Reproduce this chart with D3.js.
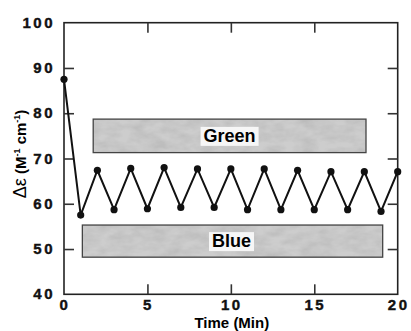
<!DOCTYPE html>
<html>
<head>
<meta charset="utf-8">
<script src="https://cdn.jsdelivr.net/npm/d3@7"></script>
<style>
  html,body{margin:0;padding:0;background:#fff;}
  svg{display:block;font-family:"Liberation Sans",Arial,sans-serif;}
</style>
</head>
<body>
<div id="chart"></div>
<script>
// data
const times  = [0,1,2,3,4,5,6,7,8,9,10,11,12,13,14,15,16,17,18,19,20];
const deltaE = [87.5,57.5,67.4,58.7,67.8,58.9,68.0,59.2,67.7,59.2,67.7,58.7,67.7,58.7,67.4,58.7,67.1,58.7,67.1,58.3,67.1];
const xTicks = [0,5,10,15,20];
const yTicks = [40,50,60,70,80,90,100];
// shaded bands: [label, x0, x1, y0, y1]
const bands = [
  ["Green", 1.75, 18.1, 71.3, 78.7],
  ["Blue",  1.1, 19.1, 48.2, 55.3]
];

const width = 411, height = 331;
const m = {top:22.7, right:13.3, bottom:36.7, left:64};

const svg = d3.select("#chart").append("svg")
  .attr("width",width).attr("height",height);

const x = d3.scaleLinear().domain([0,20]).range([m.left,width-m.right]);
const y = d3.scaleLinear().domain([40,100]).range([height-m.bottom,m.top]);

// grainy grey fill for the bands
const defs = svg.append("defs");
const f = defs.append("filter").attr("id","grain").attr("x",0).attr("y",0).attr("width",1).attr("height",1);
f.append("feTurbulence").attr("type","fractalNoise").attr("baseFrequency","0.06 0.12").attr("numOctaves",3).attr("seed",7).attr("result","n");
f.append("feColorMatrix").attr("in","n").attr("type","matrix")
  .attr("values","0 0 0 0 0.5  0 0 0 0 0.5  0 0 0 0 0.5  0 0 0 1.6 -0.45").attr("result","c");
f.append("feComposite").attr("in","c").attr("in2","SourceGraphic").attr("operator","in").attr("result","cc");
f.append("feMerge").call(s=>{s.append("feMergeNode").attr("in","SourceGraphic");s.append("feMergeNode").attr("in","cc");});

const bg = svg.append("g").selectAll("g").data(bands).join("g");
bg.append("rect")
  .attr("x",d=>x(d[1])).attr("y",d=>y(d[4]))
  .attr("width",d=>x(d[2])-x(d[1])).attr("height",d=>y(d[3])-y(d[4]))
  .attr("fill","#cdcdcd").attr("filter","url(#grain)");
bg.append("rect")
  .attr("x",d=>x(d[1])).attr("y",d=>y(d[4]))
  .attr("width",d=>x(d[2])-x(d[1])).attr("height",d=>y(d[3])-y(d[4]))
  .attr("fill","none").attr("stroke","#444").attr("stroke-width",1.3);
const lbl = bg.append("text")
  .attr("x",d=>x((d[1]+d[2])/2)+ (d[0]==="Green"?0:-1))
  .attr("y",d=>(y(d[3])+y(d[4]))/2+6)
  .attr("text-anchor","middle")
  .attr("font-size",18).attr("font-weight","bold")
  .text(d=>d[0]);
lbl.each(function(){
  const b=this.getBBox();
  d3.select(this.parentNode).insert("rect","text")
    .attr("x",b.x-3).attr("y",b.y+1).attr("width",b.width+6).attr("height",b.height-1)
    .attr("fill","#f6f6f6");
});

// frame
svg.append("rect")
  .attr("x",x(0)).attr("y",y(100))
  .attr("width",x(20)-x(0)).attr("height",y(40)-y(100))
  .attr("fill","none").attr("stroke","#222").attr("stroke-width",1.6);

// axes with inward ticks on all sides
const ax = (g)=>g.call(s=>s.select(".domain").remove())
  .call(s=>s.selectAll(".tick line").attr("stroke","#333").attr("stroke-width",1.6));
const inner = v=>v>0 && v<20;
const innerY = v=>v>40 && v<100;

svg.append("g").attr("transform",`translate(0,${y(40)})`)
  .call(d3.axisBottom(x).tickValues(xTicks.filter(inner)).tickSize(-10).tickFormat(""))
  .call(ax);
svg.append("g").attr("transform",`translate(0,${y(100)})`)
  .call(d3.axisTop(x).tickValues(xTicks.filter(inner)).tickSize(-10).tickFormat(""))
  .call(ax);
svg.append("g").attr("transform",`translate(${x(0)},0)`)
  .call(d3.axisLeft(y).tickValues(yTicks.filter(innerY)).tickSize(-10).tickFormat(""))
  .call(ax);
svg.append("g").attr("transform",`translate(${x(20)},0)`)
  .call(d3.axisRight(y).tickValues(yTicks.filter(innerY)).tickSize(-10).tickFormat(""))
  .call(ax);

// tick labels
svg.append("g").selectAll("text").data(xTicks).join("text")
  .attr("x",d=>x(d)+1).attr("y",y(40)+16)
  .attr("text-anchor","middle").attr("font-size",15).attr("font-weight","bold")
  .attr("letter-spacing",2.5).attr("fill","#111")
  .attr("stroke","#111").attr("stroke-width",0.4)
  .text(d=>d);
svg.append("g").selectAll("text").data(yTicks).join("text")
  .attr("x",x(0)-9).attr("y",d=>y(d)+5)
  .attr("text-anchor","end").attr("font-size",15).attr("font-weight","bold")
  .attr("letter-spacing",2.5).attr("fill","#111")
  .attr("stroke","#111").attr("stroke-width",0.4)
  .text(d=>d);

// axis titles
svg.append("text")
  .attr("x",(x(0)+x(20))/2+1).attr("y",height-3)
  .attr("text-anchor","middle").attr("font-size",15).attr("font-weight","bold")
  .text("Time (Min)");
const yt = svg.append("text")
  .attr("transform",`translate(26,${y(71)}) rotate(-90)`)
  .attr("text-anchor","middle").attr("font-size",15).attr("font-weight","bold");
yt.append("tspan").attr("font-weight","normal").attr("font-size",18).text("Δε");
yt.append("tspan").text(" (M");
yt.append("tspan").attr("font-size",9).attr("dy",-6).text("-1");
yt.append("tspan").attr("dy",6).text(" cm");
yt.append("tspan").attr("font-size",9).attr("dy",-6).text("-1");
yt.append("tspan").attr("dy",6).text(")");

// series
const pts = times.map((t,i)=>[t,deltaE[i]]);
svg.append("path").datum(pts)
  .attr("fill","none").attr("stroke","#111").attr("stroke-width",2)
  .attr("stroke-linejoin","miter")
  .attr("d",d3.line().x(d=>x(d[0])).y(d=>y(d[1])));
svg.append("g").selectAll("circle").data(pts).join("circle")
  .attr("cx",d=>x(d[0])).attr("cy",d=>y(d[1])).attr("r",3.6).attr("fill","#111");
</script>
</body>
</html>
